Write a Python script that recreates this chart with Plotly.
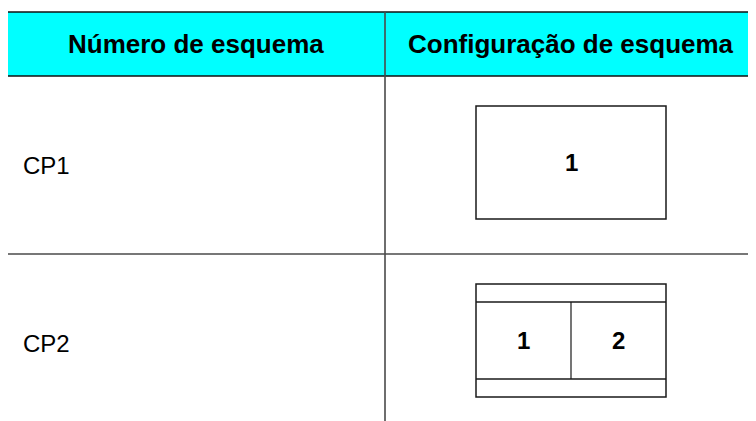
import plotly.graph_objects as go

# ---- data ----
headers = ["Número de esquema", "Configuração de esquema"]
scheme_numbers = ["CP1", "CP2"]
scheme_panels = [["1"], ["1", "2"]]
scheme_has_bars = [False, True]

# ---- geometry / style ----
W, H = 756, 421
PAGE_OFF = 8  # browser body margin
LEFT, TOP = 7, 12
HEADER_H = 64
ROW_H = 178
COL_W = [378, 372]
BOX_W, BOX_H, BOX_OFF = 190, 113, 30
BAR_H = 18
GRID = "#4a4a4a"
BOXC = "#1a1a1a"
FONT = "Liberation Sans, Arial, sans-serif"

fig = go.Figure()
shapes = []
ann = []

x_edges = [LEFT, LEFT + COL_W[0], LEFT + COL_W[0] + COL_W[1]]
n_rows = len(scheme_numbers)
table_bottom = TOP + HEADER_H + ROW_H * n_rows

# header background
shapes.append(dict(type="rect", x0=x_edges[0], x1=x_edges[2], y0=TOP, y1=TOP + HEADER_H,
                   fillcolor="#00FFFF", line=dict(width=0), layer="below"))
# horizontal lines
ys = [TOP, TOP + HEADER_H] + [TOP + HEADER_H + ROW_H * (i + 1) for i in range(n_rows)]
for i, y in enumerate(ys):
    shapes.append(dict(type="line", x0=x_edges[0], x1=x_edges[2], y0=y, y1=y,
                       line=dict(color="#111111" if i < 2 else GRID, width=1.6)))
# vertical lines
for x in x_edges:
    shapes.append(dict(type="line", x0=x, x1=x, y0=TOP, y1=table_bottom,
                       line=dict(color=GRID, width=1.6)))

# header texts
for j, h in enumerate(headers):
    ann.append(dict(x=(x_edges[j] + x_edges[j + 1]) / 2, y=TOP + HEADER_H / 2, text="<b>%s</b>" % h,
                    showarrow=False, font=dict(family=FONT, size=26, color="black"),
                    xanchor="center", yanchor="middle"))

for i, name in enumerate(scheme_numbers):
    r0 = TOP + HEADER_H + ROW_H * i
    ann.append(dict(x=LEFT + 14, y=r0 + ROW_H / 2, text=name, showarrow=False,
                    font=dict(family=FONT, size=24, color="black"),
                    xanchor="left", yanchor="middle"))
    cx = (x_edges[1] + x_edges[2]) / 2
    bx0, bx1 = cx - BOX_W / 2, cx + BOX_W / 2
    by0, by1 = r0 + BOX_OFF, r0 + BOX_OFF + BOX_H
    shapes.append(dict(type="rect", x0=bx0, x1=bx1, y0=by0, y1=by1,
                       line=dict(color=BOXC, width=1.5), fillcolor="white"))
    iy0, iy1 = by0, by1
    if scheme_has_bars[i]:
        iy0, iy1 = by0 + BAR_H, by1 - BAR_H
        for y in (iy0, iy1):
            shapes.append(dict(type="line", x0=bx0, x1=bx1, y0=y, y1=y,
                               line=dict(color=BOXC, width=1.5)))
    panels = scheme_panels[i]
    n = len(panels)
    pw = BOX_W / n
    for k, p in enumerate(panels):
        if k > 0:
            shapes.append(dict(type="line", x0=bx0 + pw * k, x1=bx0 + pw * k, y0=iy0, y1=iy1,
                               line=dict(color=BOXC, width=1.2)))
        ann.append(dict(x=bx0 + pw * (k + 0.5), y=(iy0 + iy1) / 2, text="<b>%s</b>" % p,
                        showarrow=False, font=dict(family=FONT, size=24, color="black"),
                        xanchor="center", yanchor="middle"))

fig.update_layout(
    width=W, height=H, margin=dict(l=0, r=0, t=0, b=0),
    paper_bgcolor="white", plot_bgcolor="white",
    xaxis=dict(range=[PAGE_OFF, W + PAGE_OFF], visible=False, fixedrange=True),
    yaxis=dict(range=[H + PAGE_OFF, PAGE_OFF], visible=False, fixedrange=True),
    shapes=shapes, annotations=ann, showlegend=False,
)
fig.write_html("out.html")
